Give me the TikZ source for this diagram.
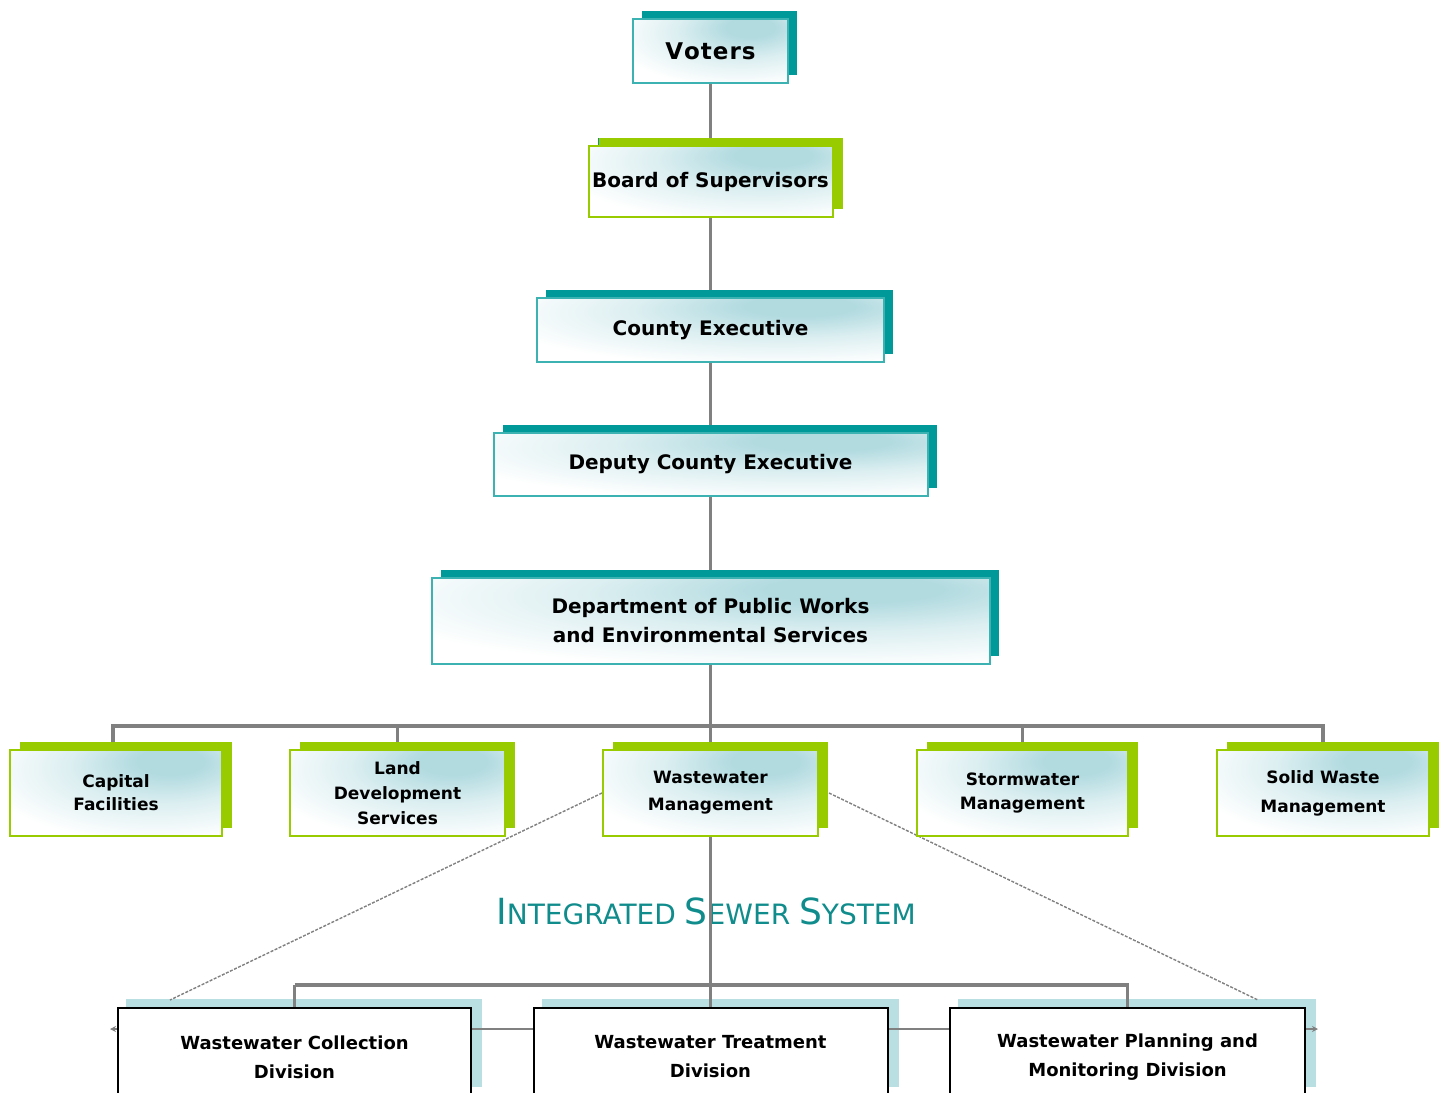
\documentclass[tikz,border=0pt]{standalone}
\usepackage{fontspec}
\setmainfont{DejaVu Sans}
\usetikzlibrary{shadows,backgrounds,arrows.meta,calc}
\definecolor{teal1}{RGB}{0,153,153}
\definecolor{green1}{RGB}{153,204,0}
\definecolor{pale}{RGB}{178,219,224}
\definecolor{tborder}{RGB}{60,178,178}
\definecolor{ltshadow}{RGB}{185,223,227}
\definecolor{linegray}{RGB}{128,128,128}
\definecolor{titleteal}{RGB}{16,140,140}
\pgfdeclareradialshading{boxglow}{\pgfpoint{14bp}{20bp}}{%
  color(0bp)=(pale); color(8bp)=(pale); color(22bp)=(pale!45!white); color(40bp)=(white); color(100bp)=(white)}
\begin{document}
\begin{tikzpicture}[x=1pt,y=-1pt,
  boxbase/.style={rectangle, inner sep=0pt, align=center,
    font=\bfseries\fontsize{20}{29}\selectfont,
    shade, shading=boxglow, line width=2pt},
  tealbox/.style={boxbase, draw=tborder,
    general shadow={fill=teal1, shadow xshift=9pt, shadow yshift=8pt}},
  greenbox/.style={boxbase, draw=green1, minimum height=86pt,
    font=\bfseries\fontsize{17}{26}\selectfont,
    general shadow={fill=green1, shadow xshift=10pt, shadow yshift=8pt}},
  divbox/.style={rectangle, inner sep=0pt, align=center, draw=black, fill=white,
    line width=2pt, minimum height=98pt,
    font=\bfseries\fontsize{18}{29}\selectfont},
  conn/.style={draw=linegray, line width=3.5pt},
  thinconn/.style={draw=linegray, line width=2pt},
  dashconn/.style={draw=linegray, line width=1.4pt, dash pattern=on 3pt off 1.5pt},
]
\clip (0,0) rectangle (1444,1093);
\useasboundingbox (0,0) rectangle (1444,1093);

% top chain
\node[tealbox, minimum width=155pt, minimum height=64pt,
  font=\bfseries\fontsize{23}{30}\selectfont] (voters) at (710.5,51) {V\kern1pt o\kern1pt t\kern1pt e\kern1pt r\kern1pt s};
\node[tealbox, draw=green1, minimum width=244pt, minimum height=71pt,
  general shadow={fill=green1, shadow xshift=10pt, shadow yshift=8pt}] (board) at (710.5,181.5) {Board of Supervisors};
\node[tealbox, minimum width=347pt, minimum height=64pt] (county) at (710.5,330) {County Executive};
\node[tealbox, minimum width=434pt, minimum height=63pt] (deputy) at (710.5,464.5) {Deputy County Executive};
\node[tealbox, minimum width=558pt, minimum height=86pt] (dept) at (710.5,621) {Department of Public Works\\and Environmental Services};

% middle row
\node[greenbox, minimum width=212pt, font=\bfseries\fontsize{17}{23}\selectfont] (cap) at (116,793) {Capital\\Facilities};
\node[greenbox, minimum width=215pt, font=\bfseries\fontsize{17}{25}\selectfont] (land) at (397.5,793) {Land\\Development\\Services};
\node[greenbox, minimum width=215pt, font=\bfseries\fontsize{17}{27}\selectfont] (wm) at (710.5,793) {Wastewater\\Management};
\node[greenbox, minimum width=211pt, font=\bfseries\fontsize{17}{24}\selectfont] (storm) at (1022.5,793) {Stormwater\\Management};
\node[greenbox, minimum width=212pt, font=\bfseries\fontsize{17}{29}\selectfont] (solid) at (1323,793) {Solid Waste\\Management};

% title
\node[text=titleteal, font=\fontsize{28}{28}\selectfont, inner sep=0pt] (title) at (706,911)
  {{\fontsize{36}{36}\selectfont I}NTEGRATED {\fontsize{36}{36}\selectfont S}EWER {\fontsize{36}{36}\selectfont S}YSTEM};

% bottom row
\node[divbox, minimum width=353pt] (coll) at (294.5,1057) {Wastewater Collection\\Division};
\node[divbox, minimum width=354pt] (treat) at (710.5,1057) {Wastewater Treatment\\Division};
\node[divbox, minimum width=355pt] (plan) at (1127.5,1057) {Wastewater Planning and\\Monitoring Division};

\coordinate (busA) at (0,726);
\coordinate (busB) at (0,985);
\coordinate (hl) at (110,1029);
\coordinate (hr) at (1318,1029);
\coordinate (dl) at (170,1000);
\coordinate (dr) at (1258,1000);

\begin{scope}[on background layer]
  \foreach \n in {coll,treat,plan}{
    \fill[ltshadow] ($(\n.north west)+(9,-8)$) rectangle ($(\n.north east)+(10,80)$);
  }
  \draw[thinconn, {Stealth[length=6pt,width=6pt]}-{Stealth[length=6pt,width=6pt]}] (hl) -- (hr);
  \draw[conn] (voters.south) -- (board.north);
  \draw[conn] (board.south) -- (county.north);
  \draw[conn] (county.south) -- (deputy.north);
  \draw[conn] (deputy.south) -- (dept.north);
  \draw[conn] (dept.south) -- (wm.north);
  \draw[conn] ([xshift=-3pt]cap.north) -- ([xshift=-3pt]cap.north |- busA) -- (solid.north |- busA) -- (solid.north);
  \draw[conn] (land.north |- busA) -- (land.north);
  \draw[conn] (storm.north |- busA) -- (storm.north);
  \draw[conn] (coll.north |- busB) -- (plan.north |- busB) -- (plan.north);
  \draw[conn] (coll.north |- busB) -- (coll.north);
  \draw[dashconn] (wm.west) -- (dl);
  \draw[dashconn] ([xshift=10pt]wm.east) -- (dr);
\end{scope}
\draw[conn] (wm.south) -- (treat.north);
\end{tikzpicture}
\end{document}
